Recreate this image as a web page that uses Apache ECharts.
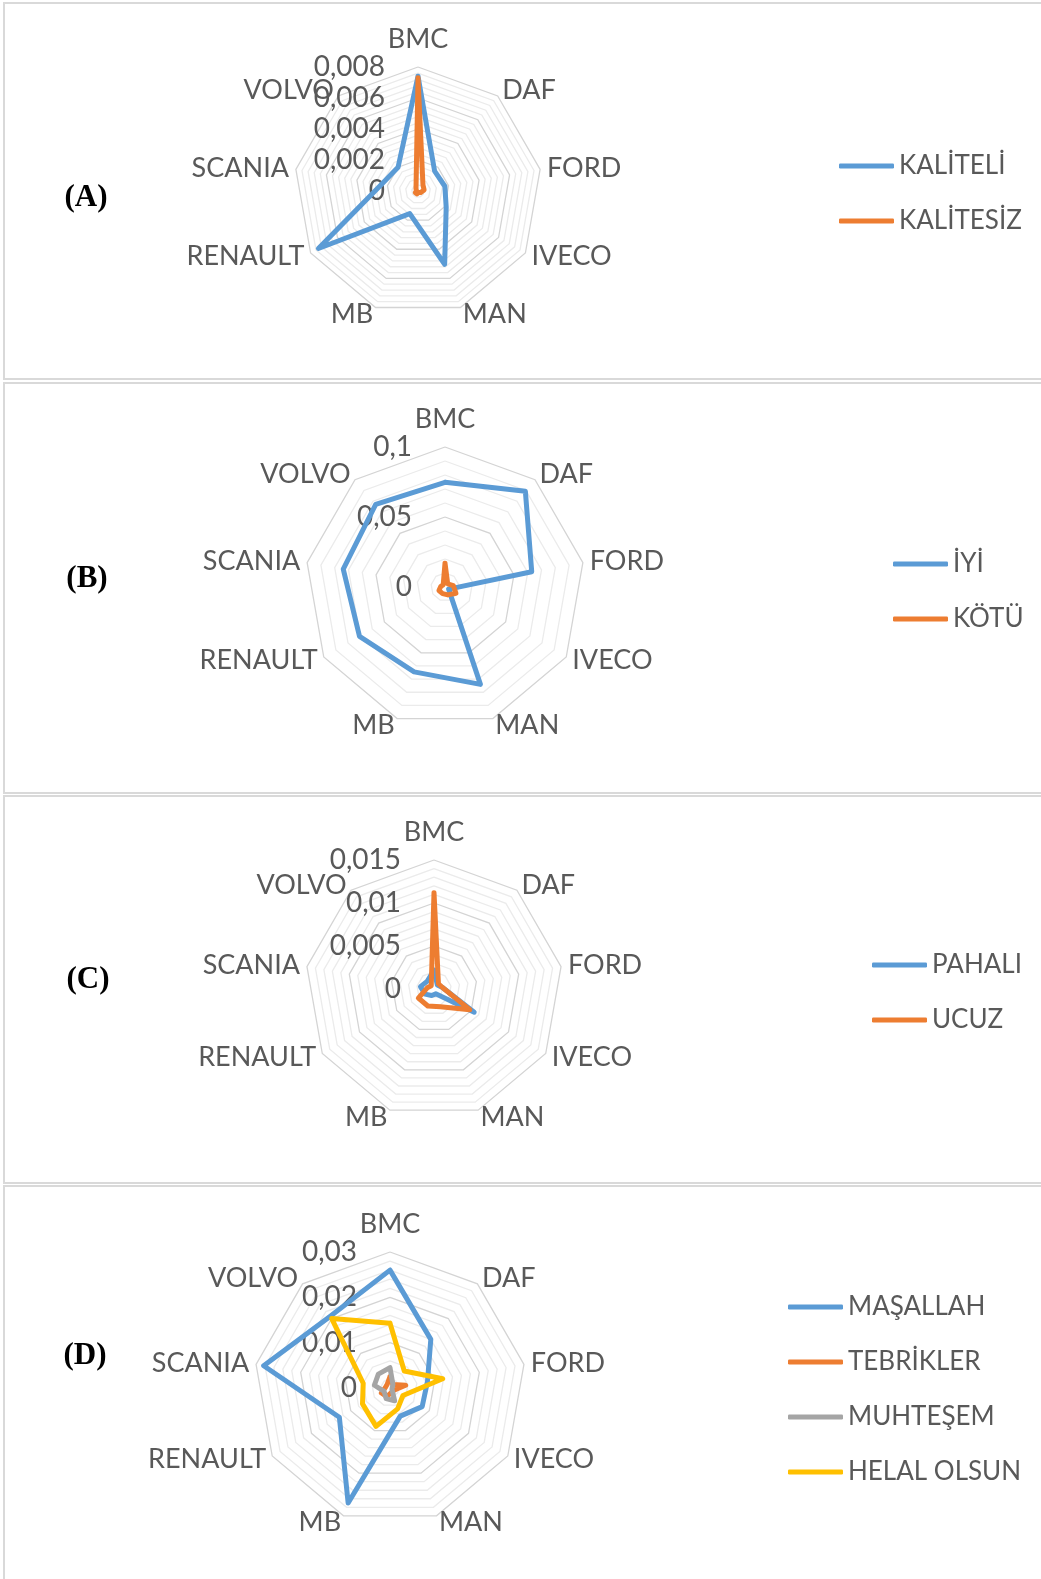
<!DOCTYPE html>
<html>
<head>
<meta charset="utf-8">
<script src="https://cdn.jsdelivr.net/npm/echarts@6/dist/echarts.min.js"></script>
<style>
html, body { margin: 0; padding: 0; background: #fff; }
#chart { width: 1041px; height: 1579px; }
</style>
</head>
<body>
<div id="chart"></div>
<script>
var brands = ['BMC', 'DAF', 'FORD', 'IVECO', 'MAN', 'MB', 'RENAULT', 'SCANIA', 'VOLVO'];

// (A)
var kaliteli  = [0.0074, 0.00167, 0.00176, 0.0021, 0.00503, 0.00155, 0.00742, 0.0024, 0.0020];
var kalitesiz = [0.0073, 0.0005, 0.0004, 0.0002, 0.0001, 0.0002, 0.0002, 0.0001, 0.0002];
// (B)
var iyi  = [0.0748, 0.0893, 0.0629, 0.003, 0.074, 0.0645, 0.0705, 0.0738, 0.077];
var kotu = [0.017, 0.003, 0.006, 0.009, 0.006, 0.005, 0.005, 0.003, 0.002];
// (C)
var pahali = [0.0022, 0.0006, 0.0010, 0.0054, 0.0006, 0.0008, 0.0012, 0.0016, 0.0012];
var ucuz   = [0.0112, 0.0008, 0.0010, 0.0048, 0.0022, 0.0021, 0.0021, 0.0008, 0.0005];
// (D)
var masallah   = [0.026, 0.014, 0.0084, 0.0082, 0.0066, 0.027, 0.0129, 0.0283, 0.0206];
var tebrikler  = [0.0025, 0.001, 0.0035, 0.001, 0.001, 0.002, 0.0022, 0.001, 0.001];
var muhtesem   = [0.0045, 0.001, 0.0005, 0.0005, 0.003, 0.0025, 0.0015, 0.0035, 0.004];
var helalOlsun = [0.0143, 0.0049, 0.0118, 0.0033, 0.0049, 0.009, 0.007, 0.006, 0.020];

var BLUE = '#5b9bd5', ORANGE = '#ed7d31', GRAY = '#a5a5a5', YELLOW = '#ffc000';
var TXT = '#595959';
var FONT = 'Lato';

// echarts lays radar axes out counter-clockwise, Excel goes clockwise
var order = [0, 8, 7, 6, 5, 4, 3, 2, 1];
function cw(arr) { return order.map(function (i) { return arr[i]; }); }

var chart = echarts.init(document.getElementById('chart'));

function makeRadar(center, radius, max, splitNumber, major) {
  return {
    center: center,
    radius: radius,
    startAngle: 90,
    shape: 'polygon',
    splitNumber: splitNumber,
    indicator: cw(brands).map(function (b, i) {
      var ind = { name: b, min: 0, max: max };
      if (i === 0) {
        ind.axisLabel = {
          show: true,
          color: TXT,
          fontSize: 28,
          fontFamily: FONT,
          margin: 33,
          formatter: function (v) {
            var k = v / major;
            if (Math.abs(k - Math.round(k)) > 1e-6) return '';
            return String(+v.toFixed(4)).replace('.', ',');
          }
        };
      }
      return ind;
    }),
    axisName: { color: TXT, fontSize: 27, fontFamily: FONT },
    nameGap: 7,
    axisLine: { show: false },
    axisTick: { show: false },
    axisLabel: { show: false },
    splitArea: { show: false },
    splitLine: {
      lineStyle: {
        color: ['#d4d4d4', '#ebebeb', '#ebebeb', '#ebebeb', '#ebebeb'],
        width: 1.3
      }
    }
  };
}

function radarSeries(idx, name, values, color) {
  return {
    type: 'radar',
    radarIndex: idx,
    name: name,
    symbol: 'none',
    lineStyle: { width: 5, color: color, join: 'round', cap: 'round' },
    itemStyle: { color: color },
    data: [{ name: name, value: cw(values) }]
  };
}

function makeLegend(names, left, top) {
  return {
    data: names,
    orient: 'vertical',
    left: left,
    top: top,
    icon: 'roundRect',
    itemWidth: 55,
    itemHeight: 5,
    itemGap: 25,
    textStyle: { color: TXT, fontSize: 26, fontFamily: FONT, lineHeight: 30, padding: [0, 0, 0, 0] }
  };
}

function panel(x, y, w, h) {
  return {
    type: 'rect',
    shape: { x: x, y: y, width: w, height: h },
    style: { fill: null, stroke: '#d9d9d9', lineWidth: 2 },
    z: -10
  };
}

function tag(text, x, y) {
  return {
    type: 'text',
    x: x,
    y: y,
    style: {
      text: text,
      fill: '#000',
      font: 'bold 31px "Liberation Serif"',
      textAlign: 'center',
      textVerticalAlign: 'middle'
    }
  };
}

chart.setOption({
  animation: false,
  radar: [
    makeRadar([418, 191], 124, 0.008, 20, 0.002),
    makeRadar([445, 587], 140, 0.1, 10, 0.05),
    makeRadar([434, 989], 129, 0.015, 15, 0.005),
    makeRadar([390, 1388], 136, 0.03, 15, 0.01)
  ],
  legend: [
    makeLegend(['KALİTELİ', 'KALİTESİZ'], 834, 146),
    makeLegend(['İYİ', 'KÖTÜ'], 888, 544),
    makeLegend(['PAHALI', 'UCUZ'], 867, 945),
    makeLegend(['MAŞALLAH', 'TEBRİKLER', 'MUHTEŞEM', 'HELAL OLSUN'], 783, 1287)
  ],
  graphic: [
    panel(4, 3, 1045, 376),
    panel(4, 383, 1045, 410),
    panel(4, 796, 1045, 387),
    panel(4, 1186, 1045, 400),
    tag('(A)', 86, 198),
    tag('(B)', 87, 579),
    tag('(C)', 88, 980),
    tag('(D)', 85, 1356)
  ],
  series: [
    radarSeries(0, 'KALİTELİ', kaliteli, BLUE),
    radarSeries(0, 'KALİTESİZ', kalitesiz, ORANGE),
    radarSeries(1, 'İYİ', iyi, BLUE),
    radarSeries(1, 'KÖTÜ', kotu, ORANGE),
    radarSeries(2, 'PAHALI', pahali, BLUE),
    radarSeries(2, 'UCUZ', ucuz, ORANGE),
    radarSeries(3, 'MAŞALLAH', masallah, BLUE),
    radarSeries(3, 'TEBRİKLER', tebrikler, ORANGE),
    radarSeries(3, 'MUHTEŞEM', muhtesem, GRAY),
    radarSeries(3, 'HELAL OLSUN', helalOlsun, YELLOW)
  ]
});
</script>
</body>
</html>
